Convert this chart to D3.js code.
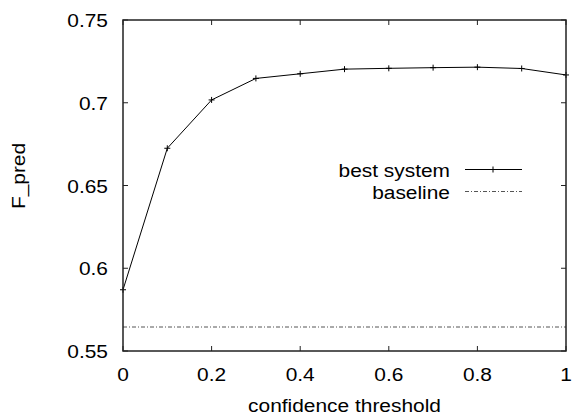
<!DOCTYPE html>
<html>
<head>
<meta charset="utf-8">
<script src="https://cdn.jsdelivr.net/npm/d3@7"></script>
<style>
  body { margin: 0; background: #fff; }
  text { font-family: "Liberation Sans", Arial, sans-serif; fill: #000; }
</style>
</head>
<body>
<script>
const thresholds = [0, 0.1, 0.2, 0.3, 0.4, 0.5, 0.6, 0.7, 0.8, 0.9, 1.0];
const bestSystem = [0.587, 0.6725, 0.7017, 0.7147, 0.7175, 0.7203, 0.7208, 0.7212, 0.7215, 0.7207, 0.7168];
const baseline = 0.5645;
const xTicks = [0, 0.2, 0.4, 0.6, 0.8, 1];
const yTicks = [0.55, 0.6, 0.65, 0.7, 0.75];

const width = 573, height = 416;
const m = { left: 123, right: 566, top: 20, bottom: 351 };
const fontSize = 19, stretch = 1.1;

const svg = d3.select("body").append("svg")
  .attr("width", width)
  .attr("height", height);

const x = d3.scaleLinear().domain([0, 1]).range([m.left, m.right]);
const y = d3.scaleLinear().domain([0.55, 0.75]).range([m.bottom, m.top]);

// gnuplot-like text is a bit wider than Liberation Sans
function label(g, tx, ty, str, anchor, rot) {
  return g.append("text")
    .attr("transform", `translate(${tx},${ty}) rotate(${rot || 0}) scale(${stretch},1)`)
    .attr("text-anchor", anchor)
    .attr("font-size", fontSize)
    .text(str);
}

const tickLen = 5;
const frameColor = "#222";

// ticks (inward, mirrored on top / right)
const ticks = svg.append("g").attr("stroke", frameColor).attr("stroke-width", 1);
xTicks.forEach(v => {
  ticks.append("line").attr("x1", x(v)).attr("x2", x(v)).attr("y1", m.bottom).attr("y2", m.bottom - tickLen);
  ticks.append("line").attr("x1", x(v)).attr("x2", x(v)).attr("y1", m.top).attr("y2", m.top + tickLen);
});
yTicks.forEach(v => {
  ticks.append("line").attr("x1", m.left).attr("x2", m.left + tickLen).attr("y1", y(v)).attr("y2", y(v));
  ticks.append("line").attr("x1", m.right).attr("x2", m.right - tickLen).attr("y1", y(v)).attr("y2", y(v));
});

// tick labels
const labels = svg.append("g");
xTicks.forEach(v => label(labels, x(v), 381, d3.format("")(v), "middle"));
yTicks.forEach(v => label(labels, 108, y(v) + 7, d3.format("")(v), "end"));

// axis titles
label(labels, (m.left + m.right) / 2, 412, "confidence threshold", "middle");
label(labels, 25, 176, "F_pred", "middle", -90);

// baseline
svg.append("line")
  .attr("x1", m.left).attr("x2", m.right)
  .attr("y1", y(baseline)).attr("y2", y(baseline))
  .attr("stroke", "#555")
  .attr("stroke-width", 1)
  .attr("stroke-dasharray", "4,2,1,2");

// best system line
const line = d3.line().x((d, i) => x(thresholds[i])).y(d => y(d));
svg.append("path")
  .datum(bestSystem)
  .attr("d", line)
  .attr("fill", "none")
  .attr("stroke", "#000")
  .attr("stroke-width", 1);

const pts = svg.append("g").attr("stroke", "#000").attr("stroke-width", 1);
bestSystem.forEach((v, i) => {
  const cx = x(thresholds[i]), cy = y(v);
  pts.append("line").attr("x1", cx - 3).attr("x2", cx + 3).attr("y1", cy).attr("y2", cy);
  pts.append("line").attr("x1", cx).attr("x2", cx).attr("y1", cy - 3).attr("y2", cy + 3);
});

// frame
svg.append("rect")
  .attr("x", m.left).attr("y", m.top)
  .attr("width", m.right - m.left).attr("height", m.bottom - m.top)
  .attr("fill", "none")
  .attr("stroke", frameColor)
  .attr("stroke-width", 1.5);

// legend
const legend = svg.append("g");
const legendRows = [
  { label: "best system", y: 169.5, dash: null, color: "#000", marker: true },
  { label: "baseline", y: 191.5, dash: "4,2,1,2", color: "#555", marker: false }
];
legendRows.forEach(r => {
  label(legend, 450, r.y + 7, r.label, "end");
  legend.append("line")
    .attr("x1", 465).attr("x2", 522).attr("y1", r.y).attr("y2", r.y)
    .attr("stroke", r.color).attr("stroke-width", 1)
    .attr("stroke-dasharray", r.dash);
  if (r.marker) {
    legend.append("line").attr("x1", 490).attr("x2", 496).attr("y1", r.y).attr("y2", r.y).attr("stroke", "#000");
    legend.append("line").attr("x1", 493).attr("x2", 493).attr("y1", r.y - 3).attr("y2", r.y + 3).attr("stroke", "#000");
  }
});
</script>
</body>
</html>
